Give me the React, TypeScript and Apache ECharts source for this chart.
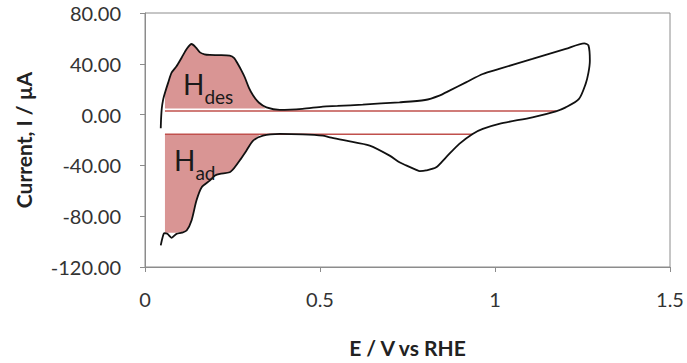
import React, { useEffect, useRef } from "react";
import * as echarts from "echarts";

// Cyclic voltammogram (anodic sweep then cathodic sweep)
const cvE = [
  0.045, 0.046, 0.048, 0.052, 0.058, 0.066, 0.076, 0.09, 0.105, 0.12, 0.133, 0.145, 0.157, 0.17, 0.185, 0.21,
  0.242, 0.255, 0.265, 0.275, 0.285, 0.297, 0.309, 0.325, 0.347, 0.385, 0.45, 0.508, 0.55, 0.622, 0.727, 0.8,
  0.841, 0.87, 0.917, 0.965, 1.012, 1.107, 1.202, 1.255, 1.267, 1.271, 1.267, 1.259, 1.24, 1.202, 1.174,
  1.107, 1.012, 0.965, 0.936, 0.898, 0.86, 0.832, 0.803, 0.785, 0.775, 0.746, 0.727, 0.699, 0.642, 0.575, 0.528,
  0.508, 0.45, 0.385, 0.337, 0.309, 0.29, 0.271, 0.255, 0.242, 0.214, 0.2, 0.185, 0.162, 0.147, 0.133, 0.119,
  0.105, 0.09, 0.076, 0.064, 0.055, 0.05, 0.045,
];
const cvI = [
  -10.8, -3, 5, 12, 18, 25, 33, 38, 45, 52, 55.6, 53, 49, 47.5, 47, 46.8,
  46.4, 44.5, 40, 35, 29.4, 21, 15, 9.5, 5.7, 3.7, 4.5, 6.3, 6.8, 7.9, 9.7, 11.5,
  15, 18.9, 25.4, 32, 36, 43.8, 51.7, 56.1, 54.5, 42.5, 33, 24.2, 12.4, 5.7, 2.6,
  -2.1, -7.3, -11.3, -15.2, -23, -33.6, -41.5, -44, -44.5, -43.5, -40, -37.5, -32.3, -24.4, -20.5, -17.9,
  -16.5, -15.5, -15.2, -16.5, -20.5, -28.3, -36, -42, -45.4, -46.7, -48, -52, -57.2, -67.7, -83.4, -91.3,
  -93, -93.9, -97, -93.9, -93.4, -97, -103,
];

// H desorption shaded region
const desE = [0.057, 0.057, 0.066, 0.076, 0.09, 0.105, 0.12, 0.133, 0.145, 0.157, 0.17, 0.185, 0.21, 0.242, 0.255, 0.265, 0.275, 0.285, 0.297, 0.309, 0.325, 0.345];
const desI = [4.8, 17.5, 25, 33, 38, 45, 52, 55.6, 53, 49, 47.5, 47, 46.8, 46.4, 44.5, 40, 35, 29.4, 21, 15, 9.5, 4.8];
const desBase = 4.8;

// H adsorption shaded region
const adsE = [0.057, 0.057, 0.09, 0.119, 0.133, 0.147, 0.162, 0.185, 0.2, 0.214, 0.242, 0.255, 0.271, 0.29, 0.309, 0.33];
const adsI = [-15.5, -93, -93, -91.3, -83.4, -67.7, -57.2, -52, -48, -46.7, -45.4, -43, -36, -28.3, -20.5, -15.5];
const adsBase = -15.5;

// baselines (red lines)
const upperBaseE = [0.057, 1.175];
const upperBaseI = [2.8, 2.8];
const lowerBaseE = [0.057, 0.936];
const lowerBaseI = [-15.5, -15.5];

const xTicks = ["0", "0.5", "1", "1.5"];

const zip = (a: number[], b: number[]) => a.map((v, i) => [v, b[i]]);

const FONT = "Lato, 'Open Sans', sans-serif";
const SHADE = "#d99594";
const RED = "#c0504d";

export default function App() {
  const ref = useRef<HTMLDivElement>(null);
  useEffect(() => {
    if (!ref.current) return;
    const chart = echarts.init(ref.current, undefined, { renderer: "svg" });
    chart.setOption({
      animation: false,
      backgroundColor: "#ffffff",
      grid: { left: 145, right: 17, top: 13, bottom: 96, show: true, borderColor: "#8c8c8c", borderWidth: 1 },
      xAxis: {
        type: "value",
        min: 0,
        max: 1.5,
        interval: 0.5,
        name: "E / V vs RHE",
        nameLocation: "middle",
        nameGap: 70,
        nameTextStyle: { fontFamily: FONT, fontWeight: "bold", fontSize: 21, color: "#222" },
        axisLine: { show: true, onZero: false, lineStyle: { color: "#8c8c8c" } },
        axisTick: { show: true, length: 5, lineStyle: { color: "#8c8c8c" } },
        splitLine: { show: false },
        axisLabel: {
          fontFamily: FONT,
          fontSize: 20,
          color: "#333",
          margin: 22,
          formatter: (v: number) => {
            const i = Math.round(v / 0.5);
            return xTicks[i] ?? String(v);
          },
        },
      },
      yAxis: {
        type: "value",
        min: -120,
        max: 80,
        interval: 40,
        name: "Current, I / µA",
        nameLocation: "middle",
        nameGap: 111,
        nameTextStyle: { fontFamily: FONT, fontWeight: "bold", fontSize: 21, color: "#222" },
        axisLine: { show: true, onZero: false, lineStyle: { color: "#8c8c8c" } },
        axisTick: { show: true, length: 5, lineStyle: { color: "#8c8c8c" } },
        splitLine: { show: false },
        axisLabel: {
          fontFamily: FONT,
          fontSize: 20,
          color: "#333",
          margin: 24,
          formatter: (v: number) => v.toFixed(2),
        },
      },
      series: [
        {
          type: "line",
          data: zip(desE, desI),
          symbol: "none",
          smooth: 0.2,
          lineStyle: { width: 0 },
          areaStyle: { color: SHADE, opacity: 1, origin: desBase },
          silent: true,
          z: 1,
        },
        {
          type: "line",
          data: zip(adsE, adsI),
          symbol: "none",
          smooth: 0.2,
          lineStyle: { width: 0 },
          areaStyle: { color: SHADE, opacity: 1, origin: adsBase },
          silent: true,
          z: 1,
        },
        {
          type: "line",
          data: zip(upperBaseE, upperBaseI),
          symbol: "none",
          lineStyle: { color: RED, width: 1.5 },
          z: 2,
        },
        {
          type: "line",
          data: zip(lowerBaseE, lowerBaseI),
          symbol: "none",
          lineStyle: { color: RED, width: 1.5 },
          z: 2,
        },
        {
          type: "line",
          data: zip(cvE, cvI),
          symbol: "none",
          smooth: 0.25,
          lineStyle: { color: "#111", width: 1.8 },
          z: 3,
        },
      ],
      graphic: [
        {
          type: "text",
          left: 183,
          top: 70,
          style: {
            text: "{h|H}{s|des}",
            rich: {
              h: { fontFamily: FONT, fontSize: 28, fill: "#1a1a1a", verticalAlign: "bottom" },
              s: { fontFamily: FONT, fontSize: 19, fill: "#1a1a1a", verticalAlign: "bottom", padding: [0, 0, -8, 0] },
            },
          },
          z: 10,
        },
        {
          type: "text",
          left: 174,
          top: 146,
          style: {
            text: "{h|H}{s|ad}",
            rich: {
              h: { fontFamily: FONT, fontSize: 28, fill: "#1a1a1a", verticalAlign: "bottom" },
              s: { fontFamily: FONT, fontSize: 19, fill: "#1a1a1a", verticalAlign: "bottom", padding: [0, 0, -8, 0] },
            },
          },
          z: 10,
        },
      ],
    });
    return () => chart.dispose();
  }, []);
  return <div ref={ref} style={{ width: 687, height: 363, position: "absolute", left: 0, top: 0 }} />;
}
